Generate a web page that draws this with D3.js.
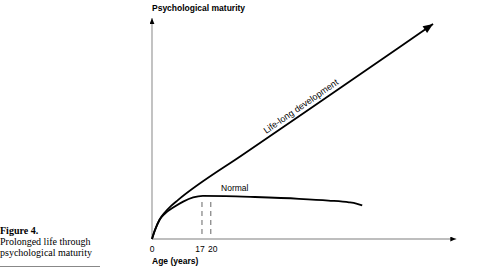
<!DOCTYPE html>
<html>
<head>
<meta charset="utf-8">
<script src="https://cdn.jsdelivr.net/npm/d3@7"></script>
<style>
  body { margin: 0; background: #fff; }
  text { font-family: "Liberation Sans", Arial, sans-serif; }
</style>
</head>
<body>
<script>
// age in years, maturity in arbitrary units (0-100)
var normalAge = [0, 1, 2.5, 4.5, 7.2, 10.6, 14, 17.3, 25, 35, 50, 60, 67, 69.5, 71.5];
var normalMat = [0, 4, 8.5, 11.6, 14.2, 16.9, 18.8, 19.5, 19.4, 19, 18.2, 17.4, 16.6, 16, 15.2];

var lifeAge = [0, 1, 2.5, 4.5, 6.5, 8.8, 31.6, 52, 84.4, 95.6];
var lifeMat = [0, 4, 8.6, 12.2, 15, 17.6, 38.8, 57.4, 87, 97.3];

var markAges = [17, 20];
var tickLabels = [0, 17, 20];

var width = 499, height = 269;

var svg = d3.select("body").append("svg")
  .attr("width", width)
  .attr("height", height);

var x = d3.scaleLinear().domain([0, 100]).range([152, 446]);
var y = d3.scaleLinear().domain([0, 100]).range([239, 18]);

var defs = svg.append("defs");

defs.append("marker")
  .attr("id", "bigArrow")
  .attr("markerUnits", "userSpaceOnUse")
  .attr("viewBox", "0 0 10 8")
  .attr("refX", 10)
  .attr("refY", 4)
  .attr("markerWidth", 11)
  .attr("markerHeight", 8)
  .attr("orient", "auto")
  .append("path")
  .attr("d", "M0,0 L10,4 L0,8 Z")
  .attr("fill", "#000");

defs.append("marker")
  .attr("id", "smallArrow")
  .attr("markerUnits", "userSpaceOnUse")
  .attr("viewBox", "0 0 10 8")
  .attr("refX", 10)
  .attr("refY", 4)
  .attr("markerWidth", 6)
  .attr("markerHeight", 5)
  .attr("orient", "auto")
  .append("path")
  .attr("d", "M0,0 L10,4 L0,8 Z")
  .attr("fill", "#000");

// axes
svg.append("line")
  .attr("x1", x(0)).attr("y1", y(0))
  .attr("x2", x(0)).attr("y2", y(100))
  .attr("stroke", "#9a9a9a")
  .attr("stroke-width", 1.2)
  .attr("marker-end", "url(#smallArrow)");

svg.append("line")
  .attr("x1", x(0)).attr("y1", y(0))
  .attr("x2", x(103.5)).attr("y2", y(0))
  .attr("stroke", "#a8a8a8")
  .attr("stroke-width", 1.4)
  .attr("marker-end", "url(#smallArrow)");

svg.selectAll(".tick-label")
  .data(tickLabels)
  .enter().append("text")
  .attr("class", "tick-label")
  .attr("x", function (d) { return d == 17 ? x(d) - 2 : d == 20 ? x(d) + 2 : x(d); })
  .attr("y", 252)
  .attr("text-anchor", "middle")
  .attr("font-size", 8.5)
  .text(function (d) { return d; });

svg.append("text")
  .attr("x", 152)
  .attr("y", 264)
  .attr("font-size", 8.5)
  .attr("font-weight", "bold")
  .text("Age (years)");

svg.append("text")
  .attr("x", 152)
  .attr("y", 11)
  .attr("font-size", 8.5)
  .attr("font-weight", "bold")
  .text("Psychological maturity");

// dashed markers at 17 and 20
svg.selectAll(".mark")
  .data(markAges)
  .enter().append("line")
  .attr("class", "mark")
  .attr("x1", function (d) { return x(d); })
  .attr("x2", function (d) { return x(d); })
  .attr("y1", 202)
  .attr("y2", 237)
  .attr("stroke", "#555")
  .attr("stroke-width", 0.9)
  .attr("stroke-dasharray", "5,4");

var line = d3.line()
  .x(function (d) { return x(d[0]); })
  .y(function (d) { return y(d[1]); })
  .curve(d3.curveMonotoneX);

svg.append("path")
  .attr("d", line(d3.zip(normalAge, normalMat)))
  .attr("fill", "none")
  .attr("stroke", "#000")
  .attr("stroke-width", 1.8);

svg.append("path")
  .attr("d", line(d3.zip(lifeAge, lifeMat)))
  .attr("fill", "none")
  .attr("stroke", "#000")
  .attr("stroke-width", 1.8)
  .attr("marker-end", "url(#bigArrow)");

svg.append("text")
  .attr("x", x(23.5))
  .attr("y", 191)
  .attr("font-size", 8.5)
  .text("Normal");

// label along the straight part of the life-long line
var n = lifeAge.length;
var ang = Math.atan2(y(lifeMat[n - 1]) - y(lifeMat[5]), x(lifeAge[n - 1]) - x(lifeAge[5])) * 180 / Math.PI;
svg.append("text")
  .attr("transform", "translate(" + x(lifeAge[7]) + "," + y(lifeMat[7]) + ") rotate(" + ang + ")")
  .attr("dy", -4)
  .attr("text-anchor", "middle")
  .attr("font-size", 9)
  .text("Life-long development");

// figure caption
var caption = svg.append("g");
caption.append("text")
  .attr("x", 0).attr("y", 234)
  .attr("font-size", 10)
  .attr("font-weight", "bold")
  .style("font-family", "'Liberation Serif', serif")
  .text("Figure 4.");
caption.append("text")
  .attr("x", 0).attr("y", 245)
  .attr("font-size", 10)
  .style("font-family", "'Liberation Serif', serif")
  .text("Prolonged life through");
caption.append("text")
  .attr("x", 0).attr("y", 255.5)
  .attr("font-size", 10)
  .style("font-family", "'Liberation Serif', serif")
  .text("psychological maturity");
svg.append("line")
  .attr("x1", 0).attr("x2", 100)
  .attr("y1", 266.5).attr("y2", 266.5)
  .attr("stroke", "#888")
  .attr("stroke-width", 1);
</script>
</body>
</html>
